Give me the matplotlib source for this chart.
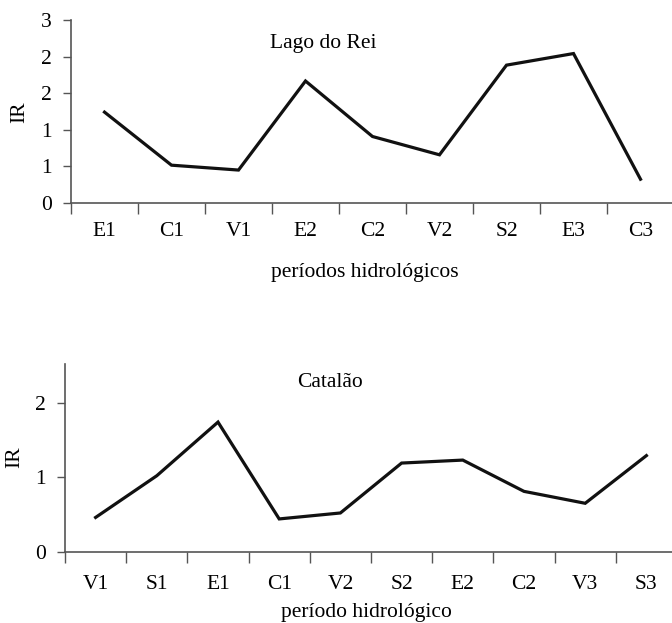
import matplotlib
matplotlib.use("Agg")
import matplotlib.pyplot as plt
import numpy as np

plt.rcParams["font.family"] = ["Liberation Serif", "DejaVu Serif"]
plt.rcParams["font.size"] = 15.5

# Lago do Rei
lago_periods = ["E1", "C1", "V1", "E2", "C2", "V2", "S2", "E3", "C3"]
lago_ir = [1.49, 0.62, 0.54, 2.00, 1.09, 0.79, 2.26, 2.45, 0.39]
lago_yticks = [0, 0.6, 1.2, 1.8, 2.4, 3.0]
lago_yticklabels = ["0", "1", "1", "2", "2", "3"]

# Catalao
cat_periods = ["V1", "S1", "E1", "C1", "V2", "S2", "E2", "C2", "V3", "S3"]
cat_ir = [0.46, 1.02, 1.74, 0.44, 0.52, 1.19, 1.23, 0.81, 0.65, 1.29]
cat_yticks = [0, 1, 2]
cat_yticklabels = ["0", "1", "2"]

W, H = 672, 623
fig = plt.figure(figsize=(W / 100, H / 100), dpi=100)
spine_col = "#555555"

def setup(ax, periods, values, ylim, yticks, yticklabels, title, tx, ty, xpad):
    n = len(periods)
    x = np.arange(n) + 0.5
    ax.plot(x, values, color="#111111", lw=2.3, solid_joinstyle="miter")
    ax.set_xlim(0, n)
    ax.set_ylim(*ylim)
    ax.set_xticks(np.arange(n + 1))
    ax.set_xticklabels([])
    ax.set_xticks(x, minor=True)
    ax.set_xticklabels(periods, minor=True)
    ax.tick_params(axis="x", which="major", direction="out", length=8, width=1, color=spine_col)
    ax.tick_params(axis="x", which="minor", length=0, pad=xpad)
    ax.set_yticks(yticks)
    ax.set_yticklabels(yticklabels)
    ax.tick_params(axis="y", direction="out", length=6, width=1, color=spine_col, pad=8)
    for s in ["top", "right"]:
        ax.spines[s].set_visible(False)
    for s in ["left", "bottom"]:
        ax.spines[s].set_color(spine_col)
        ax.spines[s].set_linewidth(1.2)
    ax.text(tx, ty, title, transform=ax.transAxes, ha="center", va="center")

ax1 = fig.add_axes([71 / W, 1 - 203 / H, 603 / W, 183 / H])
setup(ax1, lago_periods, lago_ir, (0, 3), lago_yticks, lago_yticklabels,
      "Lago do Rei", 0.418, 0.874, 14)

ax2 = fig.add_axes([65 / W, 1 - 551.7 / H, 612 / W, 187.7 / H])
setup(ax2, cat_periods, cat_ir, (0, 2.52), cat_yticks, cat_yticklabels,
      "Catalão", 0.433, 0.899, 17)

fig.text(20 / W, 1 - 112 / H, "IR", rotation=90, ha="center", va="center")
fig.text(15 / W, 1 - 457 / H, "IR", rotation=90, ha="center", va="center")
fig.text(365 / W, 1 - 272 / H, "períodos hidrológicos", ha="center", va="center")
fig.text(366 / W, 1 - 613 / H, "período hidrológico", ha="center", va="center")

fig.savefig("out.png", dpi=100)
